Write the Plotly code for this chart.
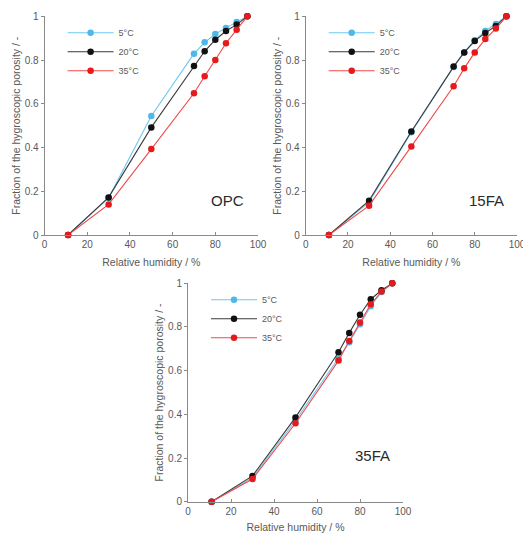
import plotly.graph_objects as go

rh = [11, 30, 50, 70, 75, 80, 85, 90, 95]
series_names = ["5°C", "20°C", "35°C"]

opc_5 = [0, 0.17, 0.544, 0.829, 0.881, 0.919, 0.947, 0.974, 1.0]
opc_20 = [0, 0.172, 0.492, 0.773, 0.840, 0.893, 0.933, 0.962, 1.0]
opc_35 = [0, 0.140, 0.393, 0.648, 0.726, 0.800, 0.877, 0.939, 1.0]

fa15_5 = [0, 0.15, 0.47, 0.768, 0.835, 0.890, 0.933, 0.965, 1.0]
fa15_20 = [0, 0.157, 0.473, 0.770, 0.835, 0.887, 0.924, 0.956, 1.0]
fa15_35 = [0, 0.134, 0.405, 0.680, 0.762, 0.835, 0.896, 0.944, 1.0]

fa35_5 = [0, 0.11, 0.372, 0.655, 0.730, 0.812, 0.895, 0.960, 1.0]
fa35_20 = [0, 0.118, 0.386, 0.684, 0.773, 0.856, 0.927, 0.968, 1.0]
fa35_35 = [0, 0.104, 0.359, 0.646, 0.736, 0.821, 0.904, 0.962, 1.0]

panel_labels = ["OPC", "15FA", "35FA"]
x_ticks = [0, 20, 40, 60, 80, 100]
y_ticks = [0, 0.2, 0.4, 0.6, 0.8, 1]

line_colors = ["#6cc8f0", "#3a3a3a", "#f04848"]
marker_colors = ["#4fb8ea", "#111111", "#e41a1c"]

W, H = 523, 533
FONT = "Liberation Sans, Arial, sans-serif"
GRAY = "#595959"
AXC = "#8a8a8a"

panels = [
    (panel_labels[0], [opc_5, opc_20, opc_35], (44.6, 258.0, 16.3, 235.0), (0.859, 0.157)),
    (panel_labels[1], [fa15_5, fa15_20, fa15_35], (305.7, 517.0, 16.3, 235.0), (0.858, 0.157)),
    (panel_labels[2], [fa35_5, fa35_20, fa35_35], (188.0, 403.0, 283.3, 501.7), (0.860, 0.21)),
]

fig = go.Figure()
layout = dict(
    width=W, height=H,
    margin=dict(l=0, r=0, t=0, b=0),
    paper_bgcolor="white", plot_bgcolor="white",
    font=dict(family=FONT, color=GRAY, size=10),
    annotations=[],
)

for i, (label, data, (x0, x1, ytop, ybot), (lx, ly)) in enumerate(panels):
    n = "" if i == 0 else str(i + 1)
    xa, ya = "x" + n, "y" + n
    leg = "legend" + n
    for j, vals in enumerate(data):
        fig.add_trace(go.Scatter(
            x=rh, y=vals, mode="lines+markers", name=series_names[j],
            xaxis=xa, yaxis=ya, legend=leg,
            line=dict(color=line_colors[j], width=1.1),
            marker=dict(color=marker_colors[j], size=6.5),
            cliponaxis=False,
        ))
    dom_x = [x0 / W, x1 / W]
    dom_y = [1 - ybot / H, 1 - ytop / H]
    layout["xaxis" + n] = dict(
        domain=dom_x, range=[0, 100], tickvals=x_ticks, anchor=ya,
        showgrid=False, zeroline=False, showline=True, linecolor=AXC, linewidth=1,
        ticks="inside", ticklen=3, tickcolor=AXC,
        tickfont=dict(size=10, color=GRAY), ticklabeloverflow="allow",
        title=dict(text="Relative humidity / %", font=dict(size=10.5, color=GRAY), standoff=9),
        automargin=False,
    )
    layout["yaxis" + n] = dict(
        domain=dom_y, range=[0, 1], tickvals=y_ticks, anchor=xa,
        showgrid=False, zeroline=False, showline=True, linecolor=AXC, linewidth=1,
        ticks="outside", ticklen=3, tickcolor=AXC,
        tickfont=dict(size=10, color=GRAY),
        title=dict(text="Fraction of the hygroscopic porosity / -", font=dict(size=10.5, color=GRAY), standoff=2),
        automargin=False,
    )
    layout[leg] = dict(
        x=(x0 + 18) / W, y=1 - (ytop + 2) / H, xanchor="left", yanchor="top",
        bgcolor="rgba(0,0,0,0)", font=dict(size=9, color=GRAY, family=FONT),
        itemwidth=46, tracegroupgap=0,
    )
    layout["annotations"].append(dict(
        text=label, xref=xa + " domain", yref=ya + " domain",
        x=lx, y=ly, xanchor="center", yanchor="middle", showarrow=False,
        font=dict(size=15, color="#2a2a2a", family=FONT),
    ))

fig.update_layout(**layout)
fig.write_html(
    "out.html",
    config={"displayModeBar": False},
    post_script="document.body.style.margin='0';document.body.style.overflow='hidden';",
)
